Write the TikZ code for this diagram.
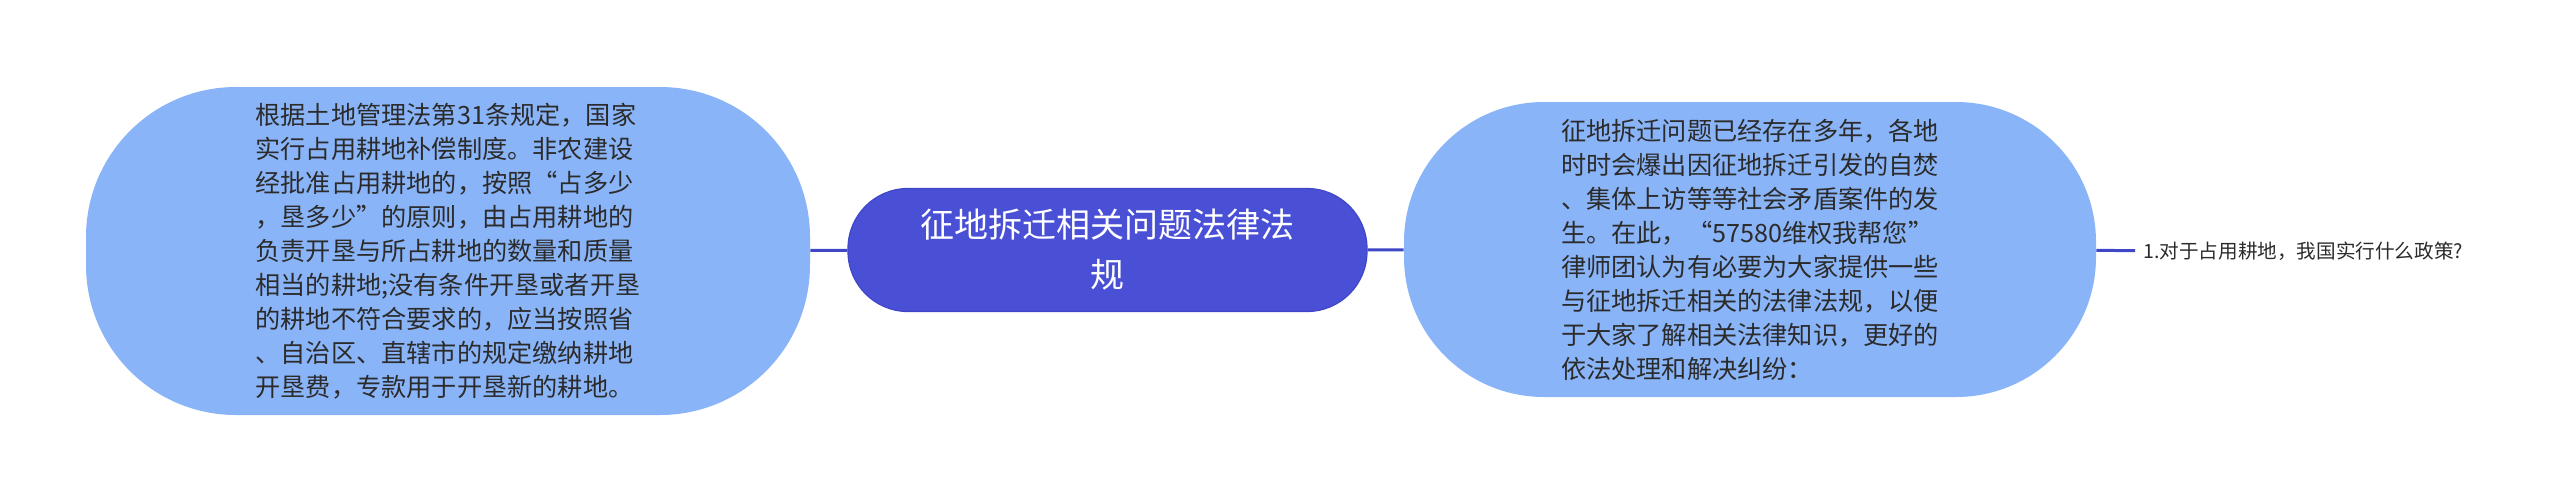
\documentclass[tikz,border=0pt]{standalone}
\usepackage{fontspec}
\setmainfont{Noto Sans CJK SC}
\usetikzlibrary{shapes}

\definecolor{rootblue}{HTML}{4A50D6}
\definecolor{subblue}{HTML}{8AB4F8}
\definecolor{linkblue}{HTML}{3F47C6}
\definecolor{inktxt}{HTML}{2B2B2B}

\begin{document}
\begin{tikzpicture}[x=0.5pt,y=-0.5pt,
  topic/.style={fill=rootblue,draw=linkblue,line width=0.6pt,text=white,rounded corners=30pt,minimum width=259.5pt,minimum height=61.5pt,align=center,font=\fontsize{17}{25}\selectfont},
  sub/.style={fill=subblue,text=inktxt,align=left,font=\fontsize{12.6}{17}\selectfont},
  link/.style={draw=linkblue,line width=1.5pt}]
\useasboundingbox (0,0) rectangle (2560,500);
\node (c0) at (1107.5,250) [topic] {征地拆迁相关问题法律法\\规};
\node (l1) at (448,251) [sub,minimum width=362pt,minimum height=164pt,rounded corners=75pt]
  {根据土地管理法第31条规定，国家\\实行占用耕地补偿制度。非农建设\\经批准占用耕地的，按照“占多少\\，垦多少”的原则，由占用耕地的\\负责开垦与所占耕地的数量和质量\\相当的耕地;没有条件开垦或者开垦\\的耕地不符合要求的，应当按照省\\、自治区、直辖市的规定缴纳耕地\\开垦费，专款用于开垦新的耕地。};
\node (r1) at (1750,249.5) [sub,minimum width=346pt,minimum height=147.5pt,rounded corners=70pt]
  {征地拆迁问题已经存在多年，各地\\时时会爆出因征地拆迁引发的自焚\\、集体上访等等社会矛盾案件的发\\生。在此，“57580维权我帮您”\\律师团认为有必要为大家提供一些\\与征地拆迁相关的法律法规，以便\\于大家了解相关法律知识，更好的\\依法处理和解决纠纷：};
\node (q1) at (2135,251) [anchor=west,inner sep=4pt,text=inktxt,font=\fontsize{9.8}{12}\selectfont] {1.对于占用耕地，我国实行什么政策?};
\draw [link] (l1) -- (c0);
\draw [link] (c0) -- (r1);
\draw [link] (r1) -- (q1);
\end{tikzpicture}
\end{document}
